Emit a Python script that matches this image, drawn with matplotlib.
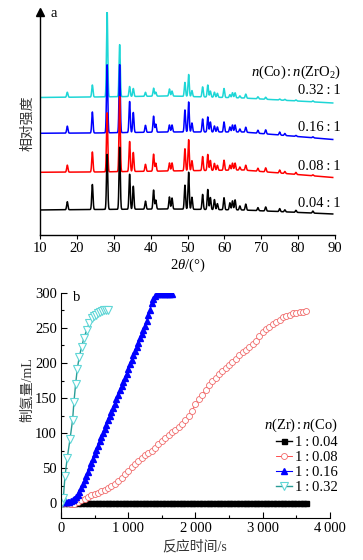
import matplotlib
matplotlib.use("Agg")
import matplotlib.pyplot as plt
import numpy as np

plt.rcParams['font.family'] = ['Liberation Serif', 'Noto Sans CJK SC', 'DejaVu Serif']
plt.rcParams['mathtext.fontset'] = 'custom'
plt.rcParams['mathtext.rm'] = 'Liberation Serif'
plt.rcParams['mathtext.it'] = 'Liberation Serif:italic'
plt.rcParams['font.size'] = 10.5

# ---- (a) XRD patterns: peak list ----
peak_pos = [17.4, 24.2, 28.2, 31.6, 34.3, 35.3, 38.6, 40.8, 41.4, 45.1, 45.8,
            49.3, 50.3, 51.2, 54.1, 55.5, 56.2, 57.3, 58.1, 59.9, 61.5, 62.2,
            62.9, 64.2, 65.8, 69.1, 71.2, 75.0, 76.4, 79.4, 84.0]
h_004 = [8, 25, 55, 62, 35, 23, 8, 19, 9, 12, 11, 24, 37, 12, 15, 20, 12, 10, 6,
         12, 7, 9, 10, 4, 6, 3, 4, 3, 2, 2, 2]
h_008 = [7, 20, 59, 75, 30, 19, 7, 17, 8, 8, 8, 22, 31, 10, 14, 16, 10, 7, 5,
         10, 5, 7, 7, 3, 5, 3, 4, 3, 2, 2, 1]
h_016 = [7, 21, 68, 68, 31, 20, 7, 16, 8, 7, 7, 22, 30, 9, 13, 15, 10, 6, 5,
         10, 5, 7, 7, 3, 5, 3, 4, 3, 2, 1, 1]
h_032 = [5, 12, 87, 52, 10, 8, 4, 8, 4, 7, 5, 14, 22, 6, 10, 12, 6, 5, 4,
         9, 3, 5, 5, 2, 4, 2, 2, 1, 1, 1, 1]
base_pos = [10, 25, 45, 65, 89.4]
base_004 = [25, 25.5, 26, 25, 21]
base_008 = [62.7, 63, 64, 65, 57.5]
base_016 = [101.7, 102, 103, 103, 95.5]
base_032 = [137.5, 138, 139, 137, 132]
xrd_labels = ['0.04\u2009:\u20091', '0.08\u2009:\u20091', '0.16\u2009:\u20091', '0.32\u2009:\u20091']
xrd_colors = ['black', '#ff0000', '#0000ff', '#1ed6d6']

# ---- (b) hydrogen volume vs time ----
t_004 = np.arange(0, 3651, 50)
v_004 = [0.0] * len(t_004)
t_008 = np.arange(0, 3651, 50)
v_008 = [0, 0, 0, -1, -1, 1, 4, 6, 9, 11, 13, 15, 17, 19, 21, 24, 27, 31, 36, 41,
         46, 51, 56, 60, 64, 68, 71, 75, 79, 84, 88, 93, 97, 101, 105, 109, 113,
         118, 124, 132, 141, 148, 155, 162, 168, 174, 179, 184, 188, 193, 197,
         202, 206, 211, 215, 219, 223, 227, 232, 238, 244, 248, 252, 256, 259,
         262, 265, 267, 269, 271, 272, 273, 273, 274]
t_016 = np.arange(0, 1651, 25)
v_016 = [1, 2, 2, 2, 2, 2, 3, 4, 6, 9, 12, 16, 21, 27, 33, 39, 45, 51, 57, 63,
         70, 76, 82, 88, 94, 100, 106, 112, 118, 124, 130, 136, 142, 148, 155,
         161, 167, 173, 179, 185, 192, 198, 204, 211, 217, 223, 229, 235, 241,
         247, 253, 260, 268, 276, 285, 292, 296, 298, 298, 298, 298, 298, 298,
         298, 298, 298, 298]
t_032 = [0, 15, 35, 59, 94, 134, 173, 193, 218, 243, 272, 307, 342, 382, 421,
         467, 495, 522, 550, 580, 610, 640, 670, 704]
v_032 = [0, 2, 7, 38, 65, 91, 119, 145, 170, 192, 209, 223, 236, 247, 257,
         264, 267, 269, 271, 273, 274, 275, 275, 276]

fig = plt.figure(figsize=(3.63, 5.6), dpi=100)

# ================= panel a =================
ax1 = fig.add_axes([0.1102, 0.5804, 0.8127, 0.3982])
tt = np.arange(10, 89.4, 0.02)
sets = [(h_032, base_032), (h_016, base_016), (h_008, base_008), (h_004, base_004)]
cols = xrd_colors[::-1]
for (hs, bs), c in zip(sets, cols):
    y = np.interp(tt, base_pos, bs)
    for p, h in zip(peak_pos, hs):
        y = y + h * np.exp(-0.5 * ((tt - p) / 0.17) ** 2)
    ax1.plot(tt, y, color=c, lw=1.1)

ax1.set_xlim(10, 90)
ax1.set_ylim(0, 223)
ax1.set_yticks([])
ax1.set_xticks(range(10, 91, 10))
ax1.tick_params(axis='x', direction='out', length=3, width=0.8, pad=2)
for s in ['top', 'right']:
    ax1.spines[s].set_visible(False)
for s in ['left', 'bottom']:
    ax1.spines[s].set_linewidth(1.0)
ax1.plot([0], [1], marker='^', color='k', markersize=6, transform=ax1.transAxes, clip_on=False)
ax1.text(0.035, 0.995, 'a', transform=ax1.transAxes, ha='left', va='center', fontsize=10.5)

ax1.text(91.6, 163, r'$n$(Co)$\,$:$\,n$(ZrO$_2$)', ha='right', va='center', clip_on=False)
for lab, yy in zip(xrd_labels, [31, 68, 107, 144]):
    ax1.text(91.6, yy, lab, ha='right', va='center', clip_on=False)

fig.text(0.077, 0.780, '相对强度', rotation=90, ha='center', va='center', color='#333333', fontsize=10)
fig.text(0.518, 0.527, r'2$\theta$/(°)', ha='center', va='center')

# ================= panel b =================
ax2 = fig.add_axes([0.168, 0.075, 0.741, 0.4018])
ax2.plot(t_004, v_004, color='black', marker='s', markersize=3.6, lw=1.0,
         label='1\u2009:\u20090.04')
ax2.plot(t_008, v_008, color='#ff3030', marker='o', markersize=4.3, lw=0.6,
         markerfacecolor='white', markeredgecolor='#f06a6a', markeredgewidth=0.6,
         label='1\u2009:\u20090.08')
ax2.plot(t_016, v_016, color='#0000ff', marker='^', markersize=5, lw=0.8,
         label='1\u2009:\u20090.16')
ax2.plot(t_032, v_032, color='#2a9c96', marker='v', markersize=5.8, lw=1.0,
         markerfacecolor='white', markeredgecolor='#5fd6d6', markeredgewidth=0.8,
         label='1\u2009:\u20090.32')

ax2.set_xlim(0, 4000)
ax2.set_ylim(-21.4, 300)
ax2.set_xticks([0, 1000, 2000, 3000, 4000])
ax2.set_xticklabels(['0', '1\u2009000', '2\u2009000', '3\u2009000', '4\u2009000'])
ax2.set_xticks([500, 1500, 2500, 3500], minor=True)
ax2.set_yticks(range(0, 301, 50))
ax2.set_yticks(range(25, 300, 50), minor=True)
ax2.tick_params(which='both', direction='in', width=0.8, pad=3)
ax2.tick_params(which='major', length=4)
ax2.tick_params(which='minor', length=2.5)
for s in ['top', 'right']:
    ax2.spines[s].set_visible(False)
ax2.text(0.045, 0.982, 'b', transform=ax2.transAxes, ha='left', va='center')

leg = ax2.legend(loc='upper right', bbox_to_anchor=(1.03, 0.45), frameon=False,
                 title=r'$n$(Zr)$\,$:$\,n$(Co)', title_fontsize=10.5, fontsize=10.5,
                 handlelength=1.1, handletextpad=0.2, labelspacing=0.12,
                 borderpad=0, borderaxespad=0, alignment='right')

fig.text(0.077, 0.304, '制氢量/mL', rotation=90, ha='center', va='center', color='#333333', fontsize=10)
fig.text(0.537, 0.023, '反应时间/s', ha='center', va='center', color='#333333', fontsize=10)

fig.savefig('out.png', dpi=100)
